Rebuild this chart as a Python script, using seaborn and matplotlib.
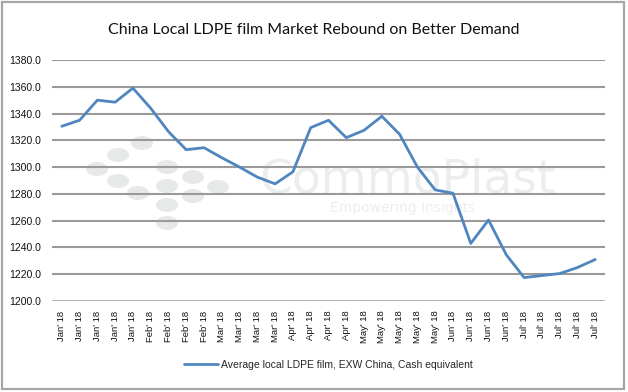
import numpy as np
import pandas as pd
import matplotlib
matplotlib.use("Agg")
import matplotlib.pyplot as plt
from matplotlib.patches import Ellipse, Rectangle
import seaborn as sns

# data
months = (["Jan' 18"] * 5 + ["Feb' 18"] * 4 + ["Mar' 18"] * 4 + ["Apr' 18"] * 4
          + ["May' 18"] * 5 + ["Jun' 18"] * 4 + ["Jul' 18"] * 5)
prices = [1330.5, 1335, 1350, 1348.5, 1359, 1344, 1326.5, 1313, 1314.5, 1307,
          1300, 1292.5, 1287.5, 1296.5, 1329.5, 1335, 1322, 1327.5, 1338, 1324.5,
          1300, 1283, 1280.5, 1243, 1260.5, 1234.5, 1217.5, 1219, 1220.5, 1225, 1231]
series_name = "Average local LDPE film, EXW China, Cash equivalent"
title = "China Local LDPE film Market Rebound on Better Demand"
y_ticks = [1200, 1220, 1240, 1260, 1280, 1300, 1320, 1340, 1360, 1380]

df = pd.DataFrame({"idx": np.arange(len(prices)), "price": prices,
                   "series": series_name})

sns.set_style("white")
plt.rcParams['font.family'] = ['Liberation Sans', 'DejaVu Sans']

fig = plt.figure(figsize=(6.28, 3.92), dpi=100)

# background layer: frame + CommoPlast watermark, in pixel units
bg = fig.add_axes([0, 0, 1, 1], zorder=-1)
bg.set_xlim(0, 628)
bg.set_ylim(392, 0)
bg.axis("off")
bg.add_patch(Rectangle((1.5, 1.5), 622, 387, fill=False,
                       edgecolor="#a6a6a6", linewidth=1.6))
dots = [(142, 143), (118, 155), (97, 169), (167, 167), (118, 181), (138, 193),
        (167, 186), (193, 177), (218, 187), (167, 205), (193, 196), (167, 223)]
for px, py in dots:
    bg.add_patch(Ellipse((px, py), 22, 14, facecolor="#e7e9e9", edgecolor="none"))
bg.text(408, 180, "CommoPlast", ha="center", va="center",
        fontsize=34, color="#eceeee", family="DejaVu Sans")
bg.text(403, 208, "Empowering Insights", ha="center", va="center",
        fontsize=10, color="#eceeee", family="DejaVu Sans")

ax = fig.add_axes([52 / 628, 1 - 301 / 392, 553 / 628, 241 / 392])
ax.set_facecolor("none")

for yv in y_ticks[1:]:
    ax.axhline(yv, color="#9a9a9a", linewidth=1.5, zorder=1)
ax.axhline(y_ticks[0], color="#b4b4b4", linewidth=2.2, zorder=1)

sns.lineplot(data=df, x="idx", y="price", hue="series", palette=["#4f86c0"],
             linewidth=2.0, ax=ax, zorder=3)

ax.set_xlim(-0.55, len(prices) - 0.45)
ax.set_ylim(y_ticks[0], y_ticks[-1])
ax.set_yticks(y_ticks)
ax.set_yticklabels([f"{v:.1f}" for v in y_ticks], fontsize=7.5, color="#111111")
ax.set_xticks(df["idx"])
ax.set_xticklabels(months, rotation=90, fontsize=6.8, color="#111111")
ax.tick_params(axis="y", length=0, pad=8)
ax.tick_params(axis="x", length=3, color="#b4b4b4", pad=4)
ax.set_xlabel("")
ax.set_ylabel("")
for s in ax.spines.values():
    s.set_visible(False)

leg = ax.legend(loc="center", bbox_to_anchor=(0.5, -0.265), frameon=False,
                fontsize=7.5, handlelength=3.2, handletextpad=0.3)
for h in leg.get_lines():
    h.set_linewidth(2.0)

fig.text(0.5, 1 - 30 / 392, title, ha="center", va="center", fontsize=11.5,
         family="Lato", color="#111111")

fig.savefig("out.png", dpi=100)
